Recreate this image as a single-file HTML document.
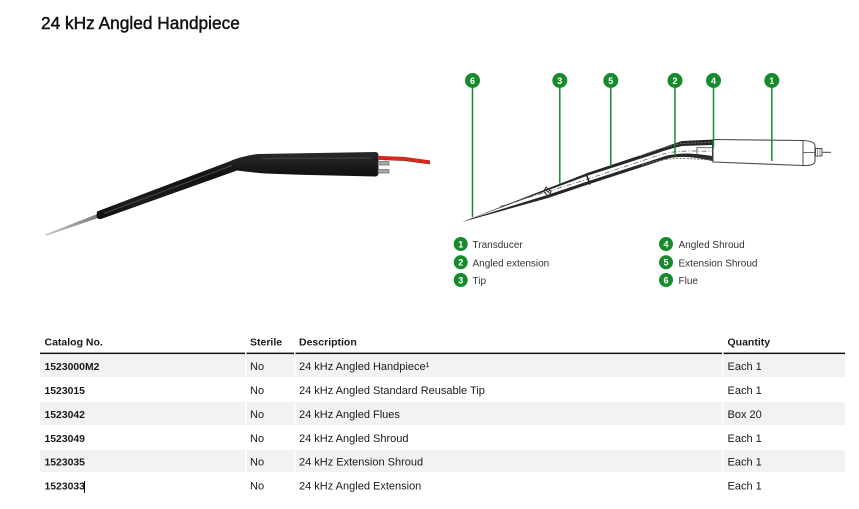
<!DOCTYPE html>
<html>
<head>
<meta charset="utf-8">
<style>
  html,body{margin:0;padding:0;background:#fff;}
  body{width:859px;height:509px;overflow:hidden;position:relative;}
  svg{position:absolute;left:0;top:0;}
  text{font-family:"Liberation Sans",Arial,sans-serif;}
</style>
</head>
<body>
<svg width="859" height="509" viewBox="0 0 859 509" xmlns="http://www.w3.org/2000/svg">
  <defs>
    <linearGradient id="needle" x1="0" y1="0" x2="1" y2="0">
      <stop offset="0" stop-color="#c8c8c8"/>
      <stop offset="1" stop-color="#7a7a7a"/>
    </linearGradient>
    <linearGradient id="body" x1="0" y1="0" x2="0" y2="1">
      <stop offset="0" stop-color="#2a2a2a"/>
      <stop offset="0.35" stop-color="#111"/>
      <stop offset="0.75" stop-color="#1c1c1c"/>
      <stop offset="1" stop-color="#0c0c0c"/>
    </linearGradient>
  </defs>

  <!-- Title -->
  <text x="41" y="29" font-size="17.3" fill="#111" stroke="#111" stroke-width="0.45">24 kHz Angled Handpiece</text>

  <!-- ===== Photo (left) ===== -->
  <polygon points="45,234.5 98,213.8 99.5,217.5 46.5,235.6" fill="url(#needle)"/>
  <path d="M97,211.5 L228,162 Q241,156 258,154 L375,152 Q378.5,152 378.5,155.5 L378.5,173 Q378.5,176.5 375,176.5 L300,174.8 L265,173.5 Q248,172 237,170.5 L101,219 Q97,219.5 96.5,216 Z" fill="url(#body)"/>
  <line x1="104" y1="213.5" x2="232" y2="165.5" stroke="#4a4a4a" stroke-width="1"/>
  <line x1="262" y1="158.5" x2="372" y2="158" stroke="#3a3a3a" stroke-width="1.5"/>
  <!-- red wire -->
  <polyline points="378,157.5 404,158.5 430,162" fill="none" stroke="#d8261c" stroke-width="3.2"/>
  <polyline points="378,159.5 404,160.5 430,164" fill="none" stroke="#8a1a12" stroke-width="0.8"/>
  <!-- pins -->
  <rect x="378" y="161.5" width="11" height="3.5" fill="#a8a8a8" stroke="#555" stroke-width="0.6"/>
  <rect x="378" y="169.5" width="11" height="3.5" fill="#a8a8a8" stroke="#555" stroke-width="0.6"/>

  <!-- ===== Line drawing (right) ===== -->
  <path d="M462,222 L588,172.7 L655,150.5 Q668,145.5 682,141 L714,139.5 L714,161.5 Q700,158 688,157 Q676,156.5 668,158.5 L588,184.5 L548,198 Z" fill="#262626"/>
  <path d="M472,218.3 L588,175.5 L655,154 Q668,149 682,146 L712,145 L712,156 Q700,154 688,153.5 Q676,153.5 667,155.5 L588,181.3 L548,194.8 Z" fill="#fff"/>
  <path d="M640,156 Q662,147 682,143.5 L712,142.2" fill="none" stroke="#777" stroke-width="1" stroke-dasharray="2 1.5"/>
  <path d="M642,165 Q664,157.5 688,158.5 L712,160" fill="none" stroke="#777" stroke-width="1" stroke-dasharray="2 1.5"/>
  <path d="M500,206.5 L590,178.3 L655,156.5 Q670,151 690,151 L812,152.5" fill="none" stroke="#666" stroke-width="0.8" stroke-dasharray="5 2 1 2"/>
  <line x1="586" y1="173.5" x2="590" y2="184.5" stroke="#222" stroke-width="1.6"/>
  <path d="M546,187 L551,191.5 L549,196.5 L544,192 Z" fill="none" stroke="#333" stroke-width="1"/>
  <line x1="544" y1="189" x2="551" y2="194" stroke="#333" stroke-width="0.8"/>
  <rect x="697" y="147.7" width="16" height="10" fill="none" stroke="#444" stroke-width="0.8"/>
  <path d="M713,139.5 L803,140.5 Q815,141 815,146 L815,161 Q815,166 803,165.5 L713,162 Z" fill="#fff" stroke="#4a4a4a" stroke-width="1.1"/>
  <line x1="803" y1="140.8" x2="803" y2="165.3" stroke="#4a4a4a" stroke-width="1"/>
  <line x1="803" y1="152.5" x2="815" y2="152.5" stroke="#4a4a4a" stroke-width="0.8"/>
  <rect x="815.5" y="148.5" width="6.5" height="7.5" fill="#fff" stroke="#444" stroke-width="0.9"/>
  <line x1="817.5" y1="148.5" x2="817.5" y2="156" stroke="#444" stroke-width="0.6"/>
  <line x1="820" y1="148.5" x2="820" y2="156" stroke="#444" stroke-width="0.6"/>
  <line x1="822" y1="152.3" x2="831" y2="152.3" stroke="#444" stroke-width="1"/>

  <!-- callout lines -->
  <g stroke="#178a2c" stroke-width="1.5">
    <line x1="472.5" y1="86" x2="472.5" y2="217"/>
    <line x1="559.8" y1="86" x2="559.8" y2="183.5"/>
    <line x1="610.8" y1="86" x2="610.8" y2="166.5"/>
    <line x1="675" y1="86" x2="675" y2="156"/>
    <line x1="713.5" y1="86" x2="713.5" y2="147.5"/>
    <line x1="771.8" y1="86" x2="771.8" y2="161"/>
  </g>
  <g fill="#178a2c">
    <circle cx="472.5" cy="80.5" r="7.5"/>
    <circle cx="559.8" cy="80.5" r="7.5"/>
    <circle cx="610.8" cy="80.5" r="7.5"/>
    <circle cx="675" cy="80.5" r="7.5"/>
    <circle cx="713.5" cy="80.5" r="7.5"/>
    <circle cx="771.8" cy="80.5" r="7.5"/>
  </g>
  <g fill="#fff" font-size="9" font-weight="700" text-anchor="middle">
    <text x="472.5" y="83.8">6</text>
    <text x="559.8" y="83.8">3</text>
    <text x="610.8" y="83.8">5</text>
    <text x="675" y="83.8">2</text>
    <text x="713.5" y="83.8">4</text>
    <text x="771.8" y="83.8">1</text>
  </g>

  <!-- legend -->
  <g fill="#178a2c">
    <circle cx="460.7" cy="244" r="7"/>
    <circle cx="460.7" cy="262.3" r="7"/>
    <circle cx="460.7" cy="280" r="7"/>
    <circle cx="666" cy="244" r="7"/>
    <circle cx="666" cy="262.3" r="7"/>
    <circle cx="666" cy="280" r="7"/>
  </g>
  <g fill="#fff" font-size="9" font-weight="700" text-anchor="middle">
    <text x="460.7" y="247.3">1</text>
    <text x="460.7" y="265.6">2</text>
    <text x="460.7" y="283.3">3</text>
    <text x="666" y="247.3">4</text>
    <text x="666" y="265.6">5</text>
    <text x="666" y="283.3">6</text>
  </g>
  <g fill="#333" font-size="10">
    <text x="472.5" y="248">Transducer</text>
    <text x="472.5" y="266.5">Angled extension</text>
    <text x="472.5" y="284">Tip</text>
    <text x="678.5" y="248">Angled Shroud</text>
    <text x="678.5" y="266.5">Extension Shroud</text>
    <text x="678.5" y="284">Flue</text>
  </g>

  <!-- ===== Table ===== -->
  <g fill="#1a1a1a" font-size="10.5" font-weight="700">
    <text x="44.5" y="345.7">Catalog No.</text>
    <text x="250" y="345.7">Sterile</text>
    <text x="299" y="345.7">Description</text>
    <text x="727.5" y="345.7">Quantity</text>
  </g>
  <g fill="#111">
    <rect x="40" y="352.6" width="205" height="1.5"/>
    <rect x="246.5" y="352.6" width="47.5" height="1.5"/>
    <rect x="295.5" y="352.6" width="426.5" height="1.5"/>
    <rect x="723.5" y="352.6" width="121.5" height="1.5"/>
  </g>
  <g fill="#f2f2f2">
    <rect x="40" y="354.5" width="205" height="22.5"/>
    <rect x="246.5" y="354.5" width="47.5" height="22.5"/>
    <rect x="295.5" y="354.5" width="426.5" height="22.5"/>
    <rect x="723.5" y="354.5" width="121.5" height="22.5"/>

    <rect x="40" y="402" width="205" height="23"/>
    <rect x="246.5" y="402" width="47.5" height="23"/>
    <rect x="295.5" y="402" width="426.5" height="23"/>
    <rect x="723.5" y="402" width="121.5" height="23"/>

    <rect x="40" y="450" width="205" height="22"/>
    <rect x="246.5" y="450" width="47.5" height="22"/>
    <rect x="295.5" y="450" width="426.5" height="22"/>
    <rect x="723.5" y="450" width="121.5" height="22"/>
  </g>
  <g fill="#1a1a1a" font-size="10.4" font-weight="700">
    <text x="44.5" y="370">1523000M2</text>
    <text x="44.5" y="394">1523015</text>
    <text x="44.5" y="418">1523042</text>
    <text x="44.5" y="442">1523049</text>
    <text x="44.5" y="465.7">1523035</text>
    <text x="44.5" y="489.5">1523033</text>
  </g>
  <line x1="84.5" y1="481" x2="84.5" y2="493" stroke="#000" stroke-width="1"/>
  <g fill="#1a1a1a" font-size="11">
    <text x="250" y="370">No</text>
    <text x="250" y="394">No</text>
    <text x="250" y="418">No</text>
    <text x="250" y="442">No</text>
    <text x="250" y="465.7">No</text>
    <text x="250" y="489.5">No</text>

    <text x="299" y="370">24 kHz Angled Handpiece¹</text>
    <text x="299" y="394">24 kHz Angled Standard Reusable Tip</text>
    <text x="299" y="418">24 kHz Angled Flues</text>
    <text x="299" y="442">24 kHz Angled Shroud</text>
    <text x="299" y="465.7">24 kHz Extension Shroud</text>
    <text x="299" y="489.5">24 kHz Angled Extension</text>

    <text x="727.5" y="370">Each 1</text>
    <text x="727.5" y="394">Each 1</text>
    <text x="727.5" y="418">Box 20</text>
    <text x="727.5" y="442">Each 1</text>
    <text x="727.5" y="465.7">Each 1</text>
    <text x="727.5" y="489.5">Each 1</text>
  </g>
</svg>
</body>
</html>
